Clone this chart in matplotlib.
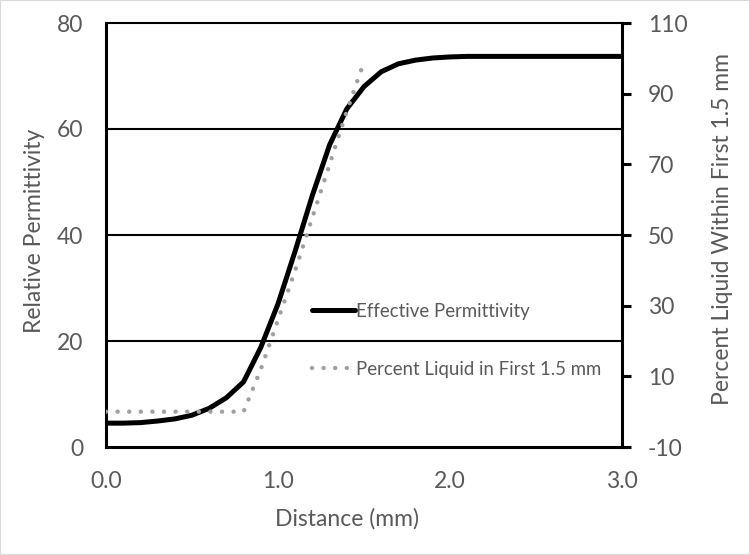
import matplotlib
matplotlib.use('Agg')
import matplotlib.pyplot as plt
from matplotlib.patches import Rectangle

plt.rcParams['font.family'] = ['Lato', 'DejaVu Sans']
plt.rcParams['axes.unicode_minus'] = False

# effective permittivity vs distance (left axis)
distance = [0.0, 0.1, 0.2, 0.3, 0.4, 0.5, 0.6, 0.7, 0.8, 0.9, 1.0,
            1.1, 1.2, 1.3, 1.4, 1.5, 1.6, 1.7, 1.8, 1.9, 2.0,
            2.1, 2.2, 2.3, 2.4, 2.5, 2.6, 2.7, 2.8, 2.9, 3.0]
eff_perm = [4.5, 4.5, 4.6, 4.9, 5.3, 6.0, 7.3, 9.3, 12.3, 18.8, 27.0,
            37.0, 47.5, 57.0, 63.8, 68.0, 70.8, 72.3, 73.0, 73.4, 73.6,
            73.7, 73.7, 73.7, 73.7, 73.7, 73.7, 73.7, 73.7, 73.7, 73.7]

# percent liquid in first 1.5 mm (right axis)
liq_dist = [0.0, 0.1, 0.2, 0.3, 0.4, 0.5, 0.6, 0.7, 0.8, 0.9, 1.0, 1.1, 1.2, 1.3, 1.4, 1.5]
pct_liquid = [0, 0, 0, 0, 0, 0, 0, 0, 0, 12, 26, 40, 55, 70, 85, 99]

x_ticks = [0.0, 1.0, 2.0, 3.0]
left_ticks = [0, 20, 40, 60, 80]
right_ticks = [-10, 10, 30, 50, 70, 90, 110]

txt = '#595959'
W, H = 750, 555
fig = plt.figure(figsize=(7.5, 5.55), dpi=100)
fig.patches.append(Rectangle((0, 0), 1, 1, transform=fig.transFigure, fill=False,
                             edgecolor='#d9d9d9', linewidth=1.5))

ax = fig.add_axes([106 / W, 1 - 447 / H, (622 - 106) / W, (447 - 23) / H])
ax2 = ax.twinx()

l1, = ax.plot(distance, eff_perm, color='black', lw=3.6, solid_capstyle='round',
              label='Effective Permittivity', zorder=3)
l2, = ax2.plot(liq_dist, pct_liquid, color='#a0a0a0', lw=3.2, linestyle=(0, (0.01, 2.6)),
               dash_capstyle='round', label='Percent Liquid in First 1.5 mm', zorder=2)

ax.set_xlim(0, 3)
ax.set_ylim(0, 80)
ax2.set_ylim(-10, 110)
ax.set_xticks(x_ticks)
ax.set_xticklabels(['%.1f' % v for v in x_ticks])
ax.set_yticks(left_ticks)
ax2.set_yticks(right_ticks)

for v in left_ticks[1:-1]:
    ax.axhline(v, color='black', lw=1.5, zorder=1)

for s in ['left', 'bottom']:
    ax.spines[s].set_linewidth(2.2)
ax.spines['top'].set_linewidth(1.5)
ax.spines['right'].set_visible(False)
for s in ['left', 'bottom', 'top']:
    ax2.spines[s].set_visible(False)
ax2.spines['right'].set_linewidth(2.2)

ax.tick_params(axis='both', length=0, labelsize=16.5, labelcolor=txt)
ax.tick_params(axis='y', pad=16.5)
ax.tick_params(axis='x', pad=17)
ax2.tick_params(axis='y', length=6.5, width=2.2, direction='out', labelsize=16.5,
                labelcolor=txt, pad=12)

ax.set_xlabel('Distance (mm)', fontsize=16.5, color=txt)
ax.xaxis.set_label_coords(0.467, -0.143)
ax.set_ylabel('Relative Permittivity', fontsize=16.5, color=txt)
ax.yaxis.set_label_coords(-0.118, 0.51)
ax2.set_ylabel('Percent Liquid Within First 1.5 mm', fontsize=16.5, color=txt, rotation=90)
ax2.yaxis.set_label_coords(1.174, 0.515)

leg = ax.legend(handles=[l1, l2], loc='upper left', bbox_to_anchor=(312 / W, 1 - 303 / H),
                bbox_transform=fig.transFigure, frameon=False, fontsize=13.4,
                handlelength=2.3, handletextpad=0.05, labelspacing=2.2,
                borderpad=0, borderaxespad=0)
for t in leg.get_texts():
    t.set_color(txt)

fig.savefig('out.png', dpi=100)
